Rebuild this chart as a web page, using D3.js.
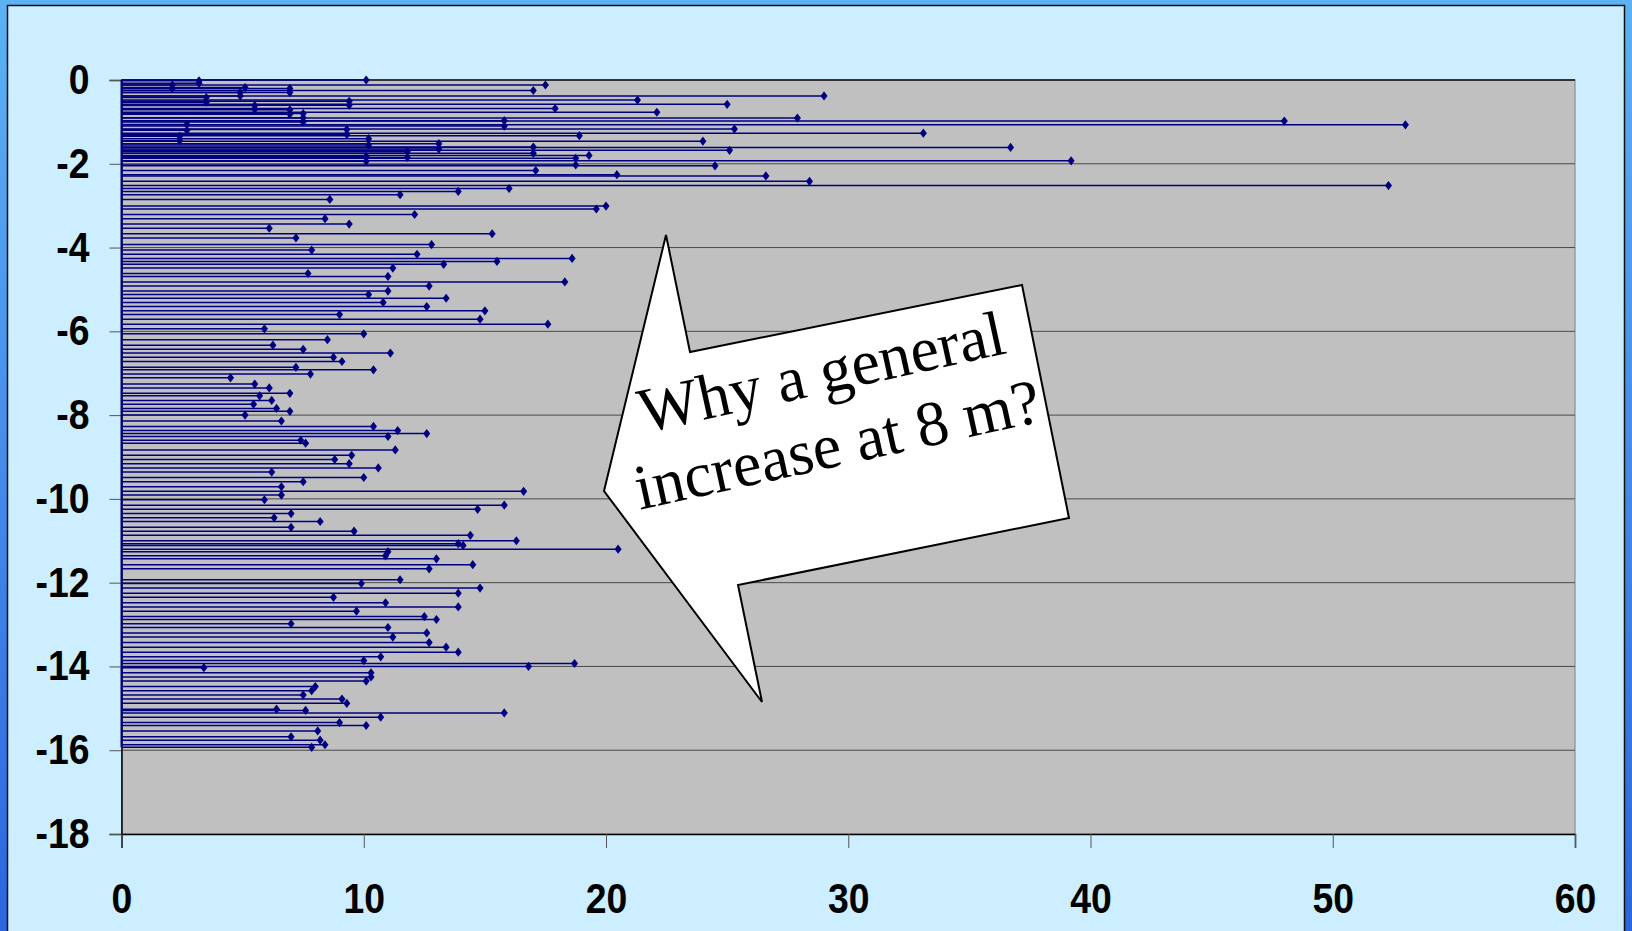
<!DOCTYPE html>
<html>
<head>
<meta charset="utf-8">
<script src="https://cdn.jsdelivr.net/npm/d3@7"></script>
<style>
    html, body { margin: 0; padding: 0; overflow: hidden; }
    #chart { width: 1632px; height: 931px; }
</style>
</head>
<body>
<div id="chart"></div>
<script>
// depth (m) and value of each profile line
var depths = [
    0, -0.02, -0.08, -0.12, -0.12, -0.18, -0.2, -0.2, -0.25, -0.3,
    -0.3, -0.38, -0.38, -0.42, -0.48, -0.51, -0.53, -0.58, -0.6, -0.61,
    -0.68, -0.7, -0.71, -0.77, -0.8, -0.82, -0.9, -0.91, -0.97, -0.98,
    -1.0, -1.06, -1.07, -1.1, -1.17, -1.18, -1.2, -1.27, -1.3, -1.33,
    -1.34, -1.4, -1.45, -1.46, -1.52, -1.55, -1.6, -1.61, -1.65, -1.68,
    -1.71, -1.75, -1.8, -1.82, -1.85, -1.87, -1.93, -1.94, -2.03, -2.05,
    -2.16, -2.26, -2.29, -2.42, -2.52, -2.59, -2.66, -2.74, -2.85, -3.01,
    -3.08, -3.21, -3.31, -3.44, -3.54, -3.67, -3.77, -3.93, -4.06, -4.16,
    -4.26, -4.33, -4.4, -4.49, -4.62, -4.69, -4.82, -4.92, -5.04, -5.12,
    -5.21, -5.31, -5.41, -5.51, -5.6, -5.71, -5.83, -5.94, -6.06, -6.2,
    -6.33, -6.43, -6.52, -6.62, -6.72, -6.86, -6.92, -7.02, -7.11, -7.26,
    -7.35, -7.48, -7.54, -7.65, -7.74, -7.84, -7.91, -8.0, -8.14, -8.27,
    -8.37, -8.44, -8.51, -8.6, -8.67, -8.83, -8.96, -9.06, -9.16, -9.26,
    -9.36, -9.49, -9.59, -9.71, -9.82, -9.91, -10.02, -10.15, -10.25, -10.35,
    -10.45, -10.54, -10.68, -10.77, -10.87, -11.0, -11.07, -11.11, -11.2, -11.26,
    -11.36, -11.43, -11.57, -11.67, -11.93, -12.02, -12.13, -12.25, -12.35, -12.48,
    -12.58, -12.68, -12.81, -12.88, -12.98, -13.07, -13.2, -13.3, -13.43, -13.54,
    -13.66, -13.77, -13.86, -13.93, -14.0, -14.03, -14.15, -14.25, -14.35, -14.48,
    -14.58, -14.68, -14.78, -14.88, -15.02, -15.05, -15.11, -15.21, -15.34, -15.41,
    -15.54, -15.68, -15.76, -15.87, -15.93
];
var values = [
    10.1, 3.2, 3.2, 17.5, 2.1, 5.1, 2.1, 6.95, 17.0, 6.95,
    4.9, 4.9, 29.0, 3.5, 21.3, 9.4, 3.5, 25.0, 9.4, 5.5,
    17.9, 5.5, 6.95, 22.1, 7.5, 6.95, 7.5, 27.9, 15.8, 48.0,
    7.5, 2.7, 53.0, 15.8, 25.3, 9.3, 2.7, 33.1, 9.3, 18.9,
    2.4, 10.2, 2.4, 24.0, 13.1, 10.2, 17.0, 36.7, 13.1, 25.1,
    11.8, 17.0, 19.3, 10.1, 11.8, 18.75, 39.2, 10.1, 18.75, 24.5,
    17.1, 20.45, 26.6, 28.4, 52.3, 16.0, 13.9, 11.5, 8.6, 20.0,
    19.6, 12.1, 8.4, 9.4, 6.1, 15.3, 7.2, 12.8, 7.85, 12.2,
    18.6, 15.5, 13.3, 11.2, 7.7, 11.0, 18.3, 12.7, 11.0, 10.2,
    13.4, 10.8, 12.6, 15.0, 9.0, 14.8, 17.6, 5.9, 10.0, 8.5,
    6.25, 7.5, 11.1, 8.75, 9.1, 7.2, 10.4, 7.8, 4.5, 5.5,
    6.1, 6.95, 5.7, 6.2, 5.45, 6.4, 6.95, 5.1, 6.6, 10.4,
    11.4, 12.6, 11.0, 7.4, 7.6, 11.3, 9.5, 8.8, 9.4, 10.6,
    6.2, 10.0, 7.5, 6.6, 16.6, 6.6, 5.9, 15.8, 14.7, 7.0,
    6.3, 8.2, 7.0, 9.6, 14.4, 16.3, 13.9, 14.1, 20.5, 11.0,
    10.9, 13.0, 14.5, 12.7, 11.5, 9.9, 14.8, 13.9, 8.75, 10.9,
    13.9, 9.7, 12.5, 13.0, 7.0, 11.0, 12.6, 11.2, 12.7, 13.4,
    13.9, 10.7, 10.0, 18.7, 16.8, 3.4, 10.3, 10.3, 10.1, 8.0,
    7.85, 7.5, 9.1, 9.3, 6.4, 7.6, 15.8, 10.7, 9.0, 10.1,
    8.1, 7.0, 8.2, 8.4, 7.85
];
var xTicks = [0, 10, 20, 30, 40, 50, 60];
var yTicks = [0, -2, -4, -6, -8, -10, -12, -14, -16, -18];
var calloutLines = ["Why a general", "increase at 8 m?"];

var width = 1632, height = 931;
var margin = { top: 80, right: 57, bottom: 97, left: 121.5 };

var svg = d3.select("#chart")
    .append("svg")
    .attr("width", width)
    .attr("height", height);

var defs = svg.append("defs");
var frameGrad = defs.append("linearGradient")
    .attr("id", "frameGrad")
    .attr("x1", "0%").attr("y1", "0%")
    .attr("x2", "0%").attr("y2", "100%");
frameGrad.append("stop").attr("offset", "0%").attr("stop-color", "#5cb2f4");
frameGrad.append("stop").attr("offset", "100%").attr("stop-color", "#2c66de");

// blue frame + light blue panel
svg.append("rect")
    .attr("width", width).attr("height", height)
    .attr("fill", "url(#frameGrad)");
svg.append("rect")
    .attr("x", 7.5).attr("y", 5.5)
    .attr("width", 1617).attr("height", 940)
    .attr("fill", "#cdeeff")
    .attr("stroke", "#111")
    .attr("stroke-width", 1.5);

var x = d3.scaleLinear()
    .domain([0, 60])
    .range([margin.left, width - margin.right]);
var y = d3.scaleLinear()
    .domain([0, -18])
    .range([margin.top, height - margin.bottom]);

var g = svg.append("g");

g.append("rect")
    .attr("x", x(0)).attr("y", y(0))
    .attr("width", x(60) - x(0))
    .attr("height", y(-18) - y(0))
    .attr("fill", "#c0c0c0")
    .attr("stroke", "#808080")
    .attr("stroke-width", 1);

// gridlines
g.selectAll(".grid")
    .data(yTicks.filter(d => d !== -18))
    .join("line")
    .attr("class", "grid")
    .attr("x1", x(0)).attr("x2", x(60))
    .attr("y1", d => y(d)).attr("y2", d => y(d))
    .attr("stroke", d => d === 0 ? "#333" : "#4a4a4a")
    .attr("stroke-width", d => d === 0 ? 2 : 1);

var rows = depths.map((d, i) => ({ depth: d, value: values[i] }));

// axes (plain hyphen for negatives, like the original)
var yAxis = g.append("g")
    .attr("transform", `translate(${x(0)},0)`)
    .call(d3.axisLeft(y).tickValues(yTicks).tickSize(12).tickPadding(20).tickFormat(d => String(d)));
var xAxis = g.append("g")
    .attr("transform", `translate(0,${y(-18)})`)
    .call(d3.axisBottom(x).tickValues(xTicks).tickSize(14).tickPadding(35).tickFormat(d => String(d)));

[yAxis, xAxis].forEach(ax => {
    ax.select(".domain").attr("stroke", "#000").attr("stroke-width", 1.5);
    ax.selectAll(".tick line").attr("stroke", "#555").attr("stroke-width", 1);
    ax.selectAll("text")
        .style("font-family", "'Liberation Sans', Arial, sans-serif")
        .style("font-size", "42px")
        .style("font-weight", "bold")
        .attr("fill", "#000")
        .each(function() {
            var len = this.getComputedTextLength();
            d3.select(this)
                .attr("textLength", len * 0.89)
                .attr("lengthAdjust", "spacingAndGlyphs");
        });
});

// profile lines
g.append("line")
    .attr("x1", x(0)).attr("x2", x(0))
    .attr("y1", y(0)).attr("y2", y(d3.min(depths)))
    .attr("stroke", "#000080")
    .attr("stroke-width", 2);

g.selectAll(".prof")
    .data(rows)
    .join("line")
    .attr("class", "prof")
    .attr("x1", x(0))
    .attr("x2", d => x(d.value))
    .attr("y1", d => y(d.depth))
    .attr("y2", d => y(d.depth))
    .attr("stroke", "#000080")
    .attr("stroke-width", 1.5);

g.selectAll(".mark")
    .data(rows)
    .join("path")
    .attr("class", "mark")
    .attr("d", d3.symbol(d3.symbolDiamond, 30))
    .attr("transform", d => `translate(${x(d.value)},${y(d.depth)}) scale(1.2,0.9)`)
    .attr("fill", "#000080");

// callout
var callout = [[666, 235], [690, 352], [1022, 285], [1069, 518], [738, 585], [762, 702], [604, 491]];
svg.append("polygon")
    .attr("points", callout.map(p => p.join(",")).join(" "))
    .attr("fill", "#fff")
    .attr("stroke", "#000")
    .attr("stroke-width", 2)
    .attr("stroke-linejoin", "miter");

var note = svg.append("text")
    .attr("transform", "translate(826,393) rotate(-12.4)")
    .attr("text-anchor", "middle")
    .style("font-family", "'Liberation Serif', 'Times New Roman', serif")
    .style("font-size", "64px")
    .attr("fill", "#000");
note.selectAll("tspan")
    .data(calloutLines)
    .join("tspan")
    .attr("x", 0)
    .attr("y", (d, i) => i * 74)
    .text(d => d);
</script>
</body>
</html>
